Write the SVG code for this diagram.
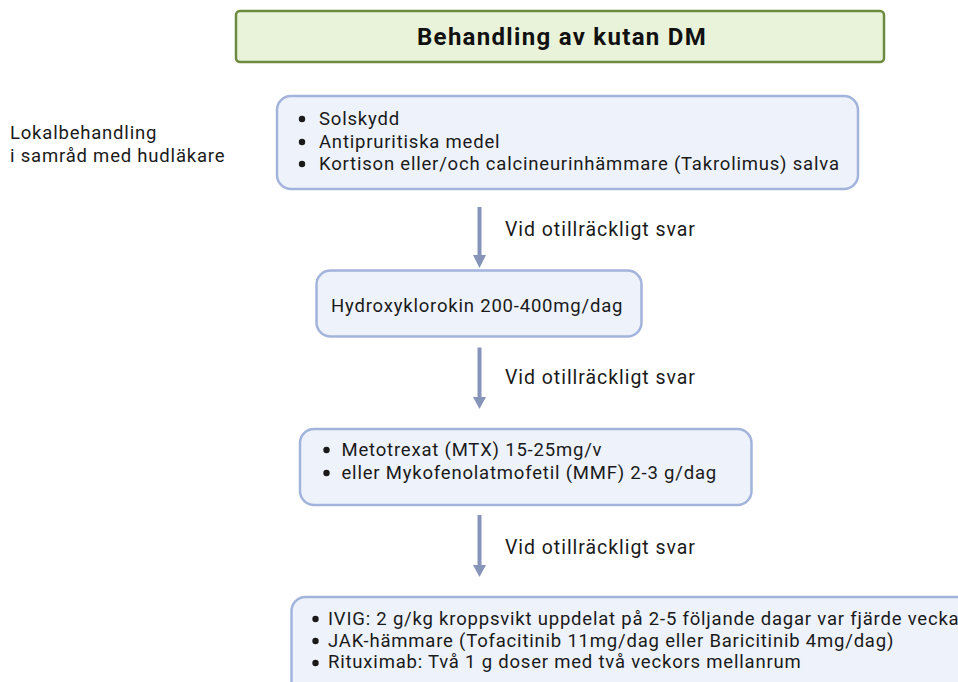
<svg xmlns="http://www.w3.org/2000/svg" width="958" height="682" viewBox="0 0 958 682">
<defs>
<style>
text{font-family:Roboto,"Liberation Sans",sans-serif;font-size:18.5px;letter-spacing:0.8px;fill:#1a1a1a}
.title{font-weight:bold;font-size:24px;letter-spacing:1.3px;fill:#111}
.lbl{font-size:19.5px;letter-spacing:0.95px}
.box{fill:#edf2fb;stroke:#a3b4dc;stroke-width:2.5}
.tbox{fill:#e9f3d9;stroke:#6d8b3e;stroke-width:2.5}
.dot{fill:#1a1a1a}
.shaft{stroke:#8594b8;stroke-width:4}
.head{fill:#8594b8}
</style>
</defs>
<rect width="958" height="682" fill="#fff"/>
<g id="title">
<rect class="tbox" x="236" y="11" width="648" height="51" rx="4"/>
<text class="title" x="417" y="45">Behandling av kutan DM</text>
</g>
<g id="label-local">
<text x="10" y="139">Lokalbehandling</text>
<text x="10" y="162">i samråd med hudläkare</text>
</g>
<g id="box1">
<rect class="box" x="277" y="96" width="581" height="93" rx="14"/>
<circle class="dot" cx="302" cy="119" r="3.2"/><text x="319" y="125">Solskydd</text>
<circle class="dot" cx="302" cy="142" r="3.2"/><text x="319" y="147.5">Antipruritiska medel</text>
<circle class="dot" cx="302" cy="164" r="3.2"/><text x="319" y="170">Kortison eller/och calcineurinhämmare (Takrolimus) salva</text>
</g>
<g id="box2">
<rect class="box" x="316.5" y="270.5" width="325" height="66" rx="14"/>
<text x="331" y="312">Hydroxyklorokin 200-400mg/dag</text>
</g>
<g id="box3">
<rect class="box" x="300" y="429" width="451.5" height="76" rx="14"/>
<circle class="dot" cx="326.5" cy="450" r="3.2"/><text x="341.5" y="455.5">Metotrexat (MTX) 15-25mg/v</text>
<circle class="dot" cx="326.5" cy="473" r="3.2"/><text x="341.5" y="478.5">eller Mykofenolatmofetil (MMF) 2-3 g/dag</text>
</g>
<g id="box4">
<rect class="box" x="291.5" y="597" width="690" height="100" rx="14"/>
<circle class="dot" cx="315.5" cy="619" r="3.2"/><text x="328" y="625">IVIG: 2 g/kg kroppsvikt uppdelat på 2-5 följande dagar var fjärde vecka</text>
<circle class="dot" cx="315.5" cy="641" r="3.2"/><text x="328" y="646.5">JAK-hämmare (Tofacitinib 11mg/dag eller Baricitinib 4mg/dag)</text>
<circle class="dot" cx="315.5" cy="663" r="3.2"/><text x="328" y="668">Rituximab: Två 1 g doser med två veckors mellanrum</text>
</g>
<g id="connectors">
<line class="shaft" x1="479.5" y1="207" x2="479.5" y2="256"/>
<polygon class="head" points="473,255 486,255 479.5,268"/>
<text class="lbl" x="505" y="236">Vid otillräckligt svar</text>
<line class="shaft" x1="479.5" y1="347.5" x2="479.5" y2="398"/>
<polygon class="head" points="473,397 486,397 479.5,409"/>
<text class="lbl" x="505" y="384">Vid otillräckligt svar</text>
<line class="shaft" x1="479.5" y1="515" x2="479.5" y2="566"/>
<polygon class="head" points="473,565 486,565 479.5,577"/>
<text class="lbl" x="505" y="554">Vid otillräckligt svar</text>
</g>
</svg>
